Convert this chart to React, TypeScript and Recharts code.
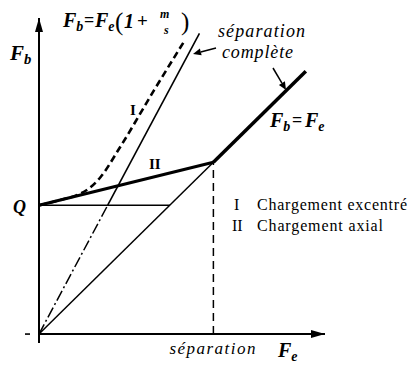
import { ComposedChart, Line, XAxis, YAxis, ReferenceLine, ReferenceDot } from "recharts";

const SERIF = "Liberation Serif";

// preload and separation point
const Q = 3.75;
const SEPARATION = 5;

// Fb = Fe, thin below separation, thick after
const directFe = [0, 5];
const directFb = [0, 5];
const afterSepFe = [5, 7.65];
const afterSepFb = [5, 7.65];

// II : axial loading, from Q to separation
const axialFe = [0, 5];
const axialFb = [3.75, 5];

// preload level
const preloadFe = [0, 3.75];
const preloadFb = [3.75, 3.75];

// Fb = Fe(1 + m/s), dash-dot under Q then solid
const leverLowFe = [0, 1.97];
const leverLowFb = [0, 3.75];
const leverHighFe = [1.97, 4.6];
const leverHighFb = [3.75, 8.75];

// I : eccentric loading
const eccentricFe = [0, 0.6, 1.1, 1.45, 1.75, 2.3, 3.3, 4.15];
const eccentricFb = [3.75, 3.9, 4.05, 4.25, 4.55, 5.4, 7.1, 8.5];

const zip = (fe: number[], fb: number[]) => fe.map((v, i) => ({ fe: v, fb: fb[i] }));

const txt = (size: number, bold = false, italic = false) => ({
  fontFamily: SERIF,
  fontSize: size,
  fontWeight: bold ? "bold" : "normal",
  fontStyle: italic ? "italic" : "normal",
  fill: "#000",
});

function Arrow({ x1, y1, x2, y2 }: { x1: number; y1: number; x2: number; y2: number }) {
  const a = Math.atan2(y2 - y1, x2 - x1);
  const len = 8;
  const w = 3.5;
  const bx = x2 - len * Math.cos(a);
  const by = y2 - len * Math.sin(a);
  const pts = `${x2},${y2} ${bx + w * Math.sin(a)},${by - w * Math.cos(a)} ${bx - w * Math.sin(a)},${by + w * Math.cos(a)}`;
  return (
    <g>
      <line x1={x1} y1={y1} x2={bx} y2={by} stroke="#000" strokeWidth={1.5} />
      <polygon points={pts} fill="#000" />
    </g>
  );
}

// F with a subscript, bold italic
function Sym({ x, y, base, sub, size = 18 }: { x: number; y: number; base: string; sub: string; size?: number }) {
  return (
    <text x={x} y={y} {...txt(size, true, true)}>
      {base}
      <tspan dy={4} fontSize={size * 0.7}>{sub}</tspan>
    </text>
  );
}

const lineProps = {
  dataKey: "fb",
  type: "linear" as const,
  stroke: "#000",
  dot: false,
  activeDot: false,
  isAnimationActive: false,
};

export default function App() {
  return (
    <div style={{ position: "absolute", left: 0, top: 0, background: "#fff" }}>
      <ComposedChart width={414} height={365} margin={{ top: 18, right: 89, bottom: 22, left: 39 }}>
        <XAxis dataKey="fe" type="number" domain={[0, 8.2]} hide />
        <YAxis type="number" domain={[-0.26, 9.2]} hide />

        {/* axes */}
        <ReferenceLine x={0} stroke="#000" strokeWidth={2} />
        <ReferenceLine y={0} stroke="#000" strokeWidth={2} />
        <ReferenceDot
          x={8.2}
          y={0}
          r={0}
          shape={(p: any) => (
            <polygon points={`${p.cx},${p.cy} ${p.cx - 14},${p.cy - 4} ${p.cx - 14},${p.cy + 4}`} fill="#000" />
          )}
        />
        <ReferenceDot
          x={0}
          y={9.2}
          r={0}
          shape={(p: any) => (
            <polygon points={`${p.cx},${p.cy} ${p.cx - 4},${p.cy + 14} ${p.cx + 4},${p.cy + 14}`} fill="#000" />
          )}
        />
        <ReferenceDot
          x={0}
          y={0}
          r={0}
          shape={(p: any) => <rect x={p.cx - 14} y={p.cy - 0.8} width={5} height={1.6} fill="#000" />}
        />

        {/* separation */}
        <ReferenceLine
          segment={[
            { x: SEPARATION, y: 0 },
            { x: SEPARATION, y: SEPARATION },
          ]}
          stroke="#000"
          strokeWidth={1.5}
          strokeDasharray="8 5"
        />
        <ReferenceDot
          x={SEPARATION}
          y={0}
          r={0}
          shape={(p: any) => (
            <text x={p.cx - 1} y={p.cy + 20} textAnchor="middle" textLength={86} lengthAdjust="spacing" {...txt(17, false, true)}>
              séparation
            </text>
          )}
        />

        <Line {...lineProps} data={zip(preloadFe, preloadFb)} strokeWidth={1.6} />
        <Line {...lineProps} data={zip(directFe, directFb)} strokeWidth={1.5} />
        <Line {...lineProps} data={zip(afterSepFe, afterSepFb)} strokeWidth={3.5} />
        <Line {...lineProps} data={zip(axialFe, axialFb)} strokeWidth={3} />
        <Line {...lineProps} data={zip(leverLowFe, leverLowFb)} strokeWidth={1.5} strokeDasharray="11 3 2 3" />
        <Line {...lineProps} data={zip(leverHighFe, leverHighFb)} strokeWidth={1.6} />
        <Line {...lineProps} data={zip(eccentricFe, eccentricFb)} type="monotone" strokeWidth={2.6} strokeDasharray="7 4" />

        {/* axis names */}
        <Sym x={10} y={60} base="F" sub="b" size={21} />
        <Sym x={278} y={357} base="F" sub="e" size={20} />
        <text x={13} y={213} {...txt(18, true, true)}>Q</text>

        {/* Fb = Fe(1 + m/s) */}
        <Sym x={63} y={27} base="F" sub="b" size={20} />
        <text x={84} y={26} {...txt(18, true)}>=</text>
        <Sym x={95} y={27} base="F" sub="e" size={20} />
        <text x={115} y={30} {...txt(25)}>(</text>
        <text x={124} y={28} {...txt(20, true, true)}>1</text>
        <text x={137} y={27} {...txt(19, true)}>+</text>
        <text x={160} y={18} {...txt(12, true, true)}>m</text>
        <text x={164} y={34} {...txt(12, true, true)}>s</text>
        <text x={181} y={30} {...txt(25)}>)</text>

        {/* complete separation */}
        <text x={218} y={37} textLength={87} lengthAdjust="spacing" {...txt(18, false, true)}>
          séparation
        </text>
        <text x={222} y={58} textLength={71} lengthAdjust="spacing" {...txt(18, false, true)}>
          complète
        </text>
        <Arrow x1={216} y1={48} x2={193} y2={54} />
        <Arrow x1={273} y1={68} x2={286} y2={90} />

        <Sym x={270} y={127} base="F" sub="b" size={20} />
        <text x={292} y={126} {...txt(18, true)}>=</text>
        <Sym x={305} y={127} base="F" sub="e" size={20} />

        {/* curve names */}
        <text x={130} y={115} {...txt(15, true)}>I</text>
        <text x={149} y={169} {...txt(15, true)}>II</text>

        {/* key */}
        <text x={234} y={210} {...txt(16)}>I</text>
        <text x={257} y={210} textLength={150} lengthAdjust="spacing" {...txt(16)}>
          Chargement excentré
        </text>
        <text x={232} y={231} {...txt(16)}>II</text>
        <text x={257} y={231} textLength={126} lengthAdjust="spacing" {...txt(16)}>
          Chargement axial
        </text>
      </ComposedChart>
    </div>
  );
}
